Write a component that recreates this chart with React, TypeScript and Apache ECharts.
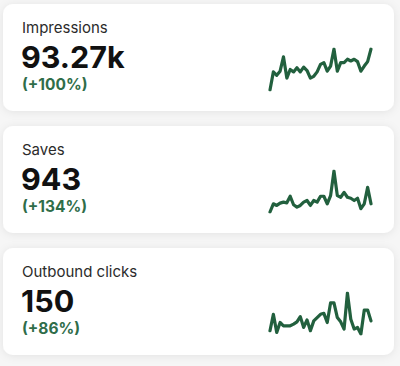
import React, { useEffect, useRef } from "react";
import * as echarts from "echarts";

const titles = ["Impressions", "Saves", "Outbound clicks"];
const totals = ["93.27k", "943", "150"];
const changes = ["(+100%)", "(+134%)", "(+86%)"];

const impressions = [1050, 2640, 2340, 2700, 3960, 2100, 2850, 2640, 3000, 2640, 3060, 2760, 2100, 2250, 2640, 3300, 3450, 2700, 3150, 4650, 2700, 3450, 3450, 3750, 3600, 3750, 3540, 2700, 3150, 3540, 4650];
const saves = [30, 55, 50, 57, 60, 58, 78, 52, 45, 50, 60, 65, 50, 65, 60, 78, 78, 55, 80, 155, 80, 75, 90, 75, 72, 65, 72, 40, 55, 105, 55];
const clicks = [45, 95, 40, 70, 60, 60, 60, 65, 72, 88, 55, 78, 45, 75, 85, 95, 98, 70, 130, 130, 85, 72, 50, 160, 80, 50, 55, 35, 108, 108, 75];

const seriesData = [impressions, saves, clicks];
const days = impressions.map((_, i) => `D${i + 1}`);

const cardTops = [4, 126, 248];
const FONT = "Inter, 'Noto Sans', sans-serif";
const GREEN = "#22603e";

export default function App() {
  const ref = useRef<HTMLDivElement>(null);
  useEffect(() => {
    if (!ref.current) return;
    const chart = echarts.init(ref.current, null, { renderer: "svg" });
    const graphic: any[] = [];
    cardTops.forEach((top, i) => {
      graphic.push({
        type: "rect",
        z: 0,
        shape: { x: 3, y: top, width: 391, height: 107, r: 10 },
        style: {
          fill: "#ffffff",
          shadowBlur: 8,
          shadowColor: "rgba(0,0,0,0.08)",
          shadowOffsetY: 1,
        },
      });
      graphic.push({
        type: "text",
        z: 1,
        style: {
          text: titles[i],
          x: 22,
          y: top + 23,
          verticalAlign: "middle",
          font: `400 15px ${FONT}`,
          fill: "#2b2b2b",
        },
      });
      graphic.push({
        type: "text",
        z: 1,
        style: {
          text: totals[i],
          x: 21,
          y: top + 52,
          verticalAlign: "middle",
          font: `700 30.5px ${FONT}`,
          fill: "#111111",
        },
      });
      graphic.push({
        type: "text",
        z: 1,
        style: {
          text: changes[i],
          x: 22,
          y: top + 80,
          verticalAlign: "middle",
          font: `700 15.5px ${FONT}`,
          fill: "#2f6d49",
        },
      });
    });

    chart.setOption({
      animation: false,
      backgroundColor: "#f6f6f6",
      graphic,
      grid: cardTops.map((top) => ({
        left: 270,
        top: top + 45,
        width: 101,
        height: 41,
      })),
      xAxis: cardTops.map((_, i) => ({
        type: "category",
        gridIndex: i,
        data: days,
        boundaryGap: false,
        show: false,
      })),
      yAxis: cardTops.map((_, i) => ({
        type: "value",
        gridIndex: i,
        show: false,
        scale: true,
        min: "dataMin",
        max: "dataMax",
      })),
      series: seriesData.map((d, i) => ({
        type: "line",
        xAxisIndex: i,
        yAxisIndex: i,
        data: d,
        symbol: "none",
        z: 5,
        lineStyle: { color: GREEN, width: 3.2, cap: "round", join: "round" },
      })),
    });
    return () => chart.dispose();
  }, []);
  return (
    <div
      ref={ref}
      style={{ position: "fixed", left: 0, top: 0, width: 400, height: 366 }}
    />
  );
}
